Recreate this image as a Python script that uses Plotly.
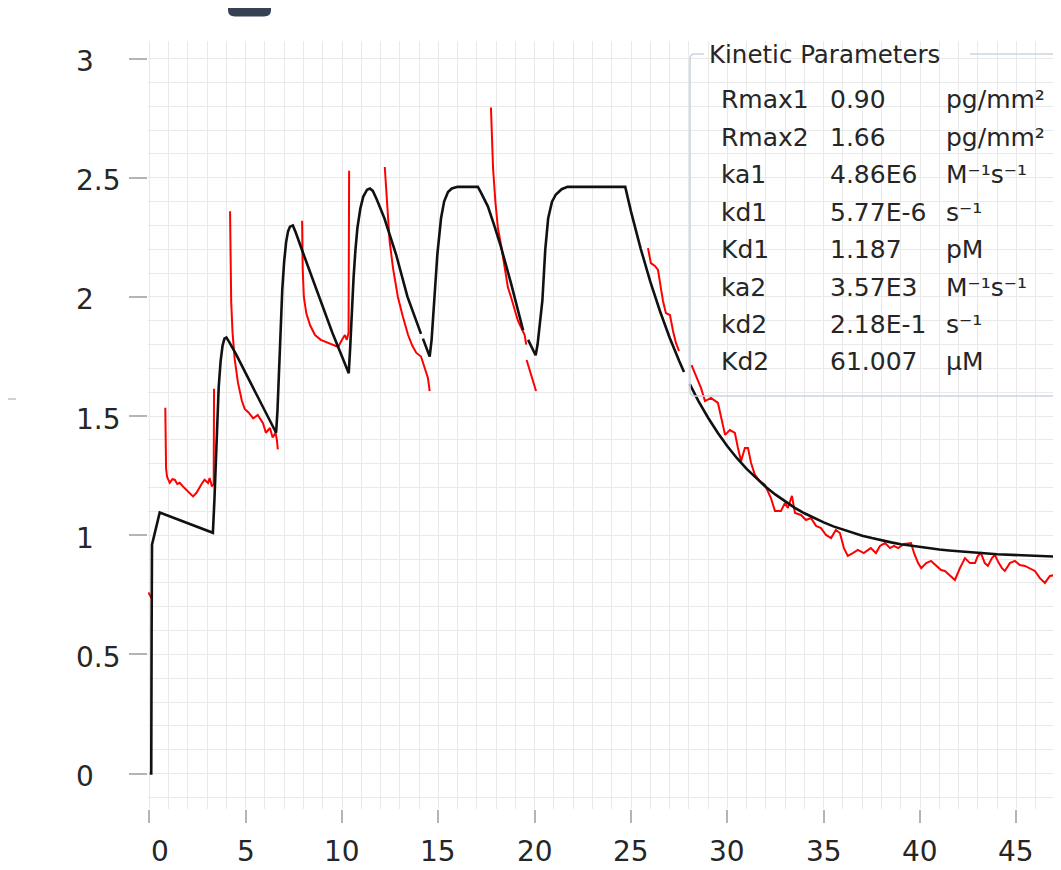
import plotly.graph_objects as go

# ---------------- data ----------------
# measured sensorgram (red), one list pair per recorded segment
meas_a_x = [-0.05, 0.05, 0.15]
meas_a_y = [0.76, 0.745, 0.73]

meas_b_x = [0.83, 0.85, 0.87, 0.92, 1.06, 1.2, 1.32, 1.45, 1.58, 1.8, 2.01, 2.15, 2.27, 2.44, 2.62, 2.75, 2.87, 3.05, 3.13, 3.25, 3.34, 3.36]
meas_b_y = [1.535, 1.40, 1.28, 1.245, 1.22, 1.235, 1.233, 1.215, 1.22, 1.20, 1.184, 1.17, 1.163, 1.177, 1.205, 1.22, 1.233, 1.219, 1.24, 1.205, 1.215, 1.615]

meas_c_x = [4.19, 4.21, 4.25, 4.32, 4.43, 4.6, 4.8, 4.95, 5.15, 5.39, 5.63, 5.9, 6.05, 6.26, 6.4, 6.55, 6.62, 6.67]
meas_c_y = [2.36, 2.15, 1.98, 1.85, 1.74, 1.64, 1.565, 1.53, 1.515, 1.49, 1.505, 1.47, 1.43, 1.45, 1.41, 1.43, 1.40, 1.36]

meas_d_x = [7.93, 7.96, 8.02, 8.15, 8.35, 8.6, 8.9, 9.2, 9.5, 9.8, 10.0, 10.15, 10.25, 10.34, 10.37]
meas_d_y = [2.32, 2.12, 2.0, 1.93, 1.88, 1.84, 1.82, 1.81, 1.80, 1.79, 1.82, 1.84, 1.82, 1.85, 2.53]

meas_e_x = [12.22, 12.3, 12.4, 12.47, 12.65, 12.9, 13.15, 13.43, 13.65, 13.86, 14.1, 14.3, 14.46, 14.55]
meas_e_y = [2.545, 2.43, 2.32, 2.235, 2.12, 2.0, 1.92, 1.84, 1.795, 1.765, 1.75, 1.70, 1.66, 1.605]

meas_f_x = [17.73, 17.78, 17.84, 17.96, 18.09, 18.25, 18.44, 18.61, 18.77, 19.13, 19.48, 19.56]
meas_f_y = [2.795, 2.65, 2.54, 2.40, 2.29, 2.22, 2.12, 2.04, 2.00, 1.90, 1.84, 1.80]

meas_g_x = [19.58, 19.81, 20.07]
meas_g_y = [1.735, 1.67, 1.605]

meas_h_x = [25.88, 26.03, 26.24, 26.4, 26.55, 26.66, 26.81, 27.02, 27.18, 27.33, 27.49]
meas_h_y = [2.205, 2.142, 2.13, 2.113, 2.037, 1.983, 1.932, 1.924, 1.857, 1.807, 1.773]

meas_i_x = [28.14, 28.32, 28.47, 28.63, 28.84, 29.15, 29.51, 29.67, 29.88, 30.13, 30.39, 30.55, 30.71, 30.91,
            31.07, 31.23, 31.43, 31.69, 31.95, 32.26, 32.47, 32.78, 32.99, 33.14, 33.35, 33.51, 33.82, 34.08,
            34.34, 34.6, 34.86, 35.12, 35.38, 35.63, 35.84, 36.05, 36.25, 36.51, 36.77, 37.08, 37.44, 37.71,
            37.92, 38.18, 38.44, 38.65, 38.86, 39.17, 39.53, 39.69, 39.9, 40.06, 40.32, 40.57, 40.83, 41.09,
            41.29, 41.55, 41.81, 42.07, 42.33, 42.59, 42.85, 43.0, 43.16, 43.36, 43.52, 43.73, 43.88, 44.09,
            44.25, 44.4, 44.66, 44.92, 45.18, 45.44, 45.7, 45.96, 46.22, 46.48, 46.74, 47.0, 47.26, 47.52, 47.73]
meas_i_y = [1.714, 1.68, 1.65, 1.618, 1.563, 1.576, 1.555, 1.492, 1.421, 1.441, 1.429, 1.366, 1.311, 1.366,
            1.366, 1.303, 1.253, 1.227, 1.211, 1.156, 1.102, 1.102, 1.135, 1.114, 1.165, 1.093, 1.085, 1.064,
            1.072, 1.039, 1.03, 1.001, 0.988, 1.022, 1.009, 0.946, 0.913, 0.925, 0.938, 0.925, 0.946, 0.925,
            0.955, 0.967, 0.946, 0.955, 0.946, 0.963, 0.967, 0.925, 0.883, 0.862, 0.883, 0.892, 0.871, 0.854,
            0.85, 0.829, 0.812, 0.862, 0.904, 0.883, 0.883, 0.913, 0.925, 0.883, 0.871, 0.904, 0.917, 0.883,
            0.862, 0.85, 0.883, 0.892, 0.875, 0.871, 0.862, 0.85, 0.82, 0.80, 0.829, 0.833, 0.862, 0.875, 0.883]

# fitted model (black)
fit_a_x = [0.02, 0.1, 0.12, 0.14, 0.54, 1.5, 2.5, 3.3, 3.38, 3.45, 3.52, 3.6, 3.7, 3.8, 3.9, 4.0,
           4.15, 4.5, 5.0, 5.5, 6.0, 6.58, 6.65, 6.72, 6.8, 6.9, 7.0, 7.1, 7.2, 7.3, 7.45,
           7.6, 8.0, 8.5, 9.0, 9.5, 10.0, 10.35, 10.42, 10.5, 10.6, 10.7, 10.8, 10.95, 11.1, 11.3, 11.45,
           11.6, 11.8, 12.2, 12.8, 13.4, 14.1]
fit_a_y = [0.0, 0.0, 0.6, 0.96, 1.095, 1.065, 1.035, 1.01, 1.15, 1.32, 1.48, 1.62, 1.73, 1.795, 1.825, 1.83,
           1.81, 1.76, 1.68, 1.60, 1.52, 1.43, 1.52, 1.68, 1.86, 2.03, 2.15, 2.23, 2.275, 2.295, 2.30,
           2.27, 2.18, 2.07, 1.96, 1.85, 1.75, 1.68, 1.78, 1.93, 2.08, 2.2, 2.29, 2.37, 2.42, 2.45, 2.455,
           2.445, 2.41, 2.33, 2.18, 2.0, 1.845]

fit_b_x = [14.2, 14.55, 14.65, 14.8, 14.95, 15.14, 15.3, 15.5, 15.7, 16.0, 17.05, 17.2, 17.57, 17.9, 18.25, 18.78, 19.4]
fit_b_y = [1.825, 1.75, 1.82, 1.99, 2.18, 2.33, 2.40, 2.44, 2.455, 2.462, 2.462, 2.44, 2.38, 2.30, 2.21, 2.055, 1.86]

fit_c_x = [19.66, 20.05, 20.15, 20.3, 20.4, 20.55, 20.7, 20.9, 21.1, 21.4, 21.7, 24.7, 25.0, 25.5, 26.0, 26.5, 27.0, 27.5, 27.75]
fit_c_y = [1.82, 1.755, 1.80, 1.91, 1.985, 2.2, 2.33, 2.40, 2.43, 2.452, 2.462, 2.462, 2.358, 2.203, 2.064, 1.941, 1.830, 1.731, 1.685]

fit_d_x = [28.05, 28.5, 29.0, 29.5, 30.0, 30.5, 31.0, 31.5, 32.0, 32.5, 33.0, 33.5, 34.0, 34.5, 35.0, 35.5,
           36.0, 36.5, 37.0, 37.5, 38.0, 38.5, 39.0, 39.5, 40.0, 40.5, 41.0, 41.5, 42.0, 42.5, 43.0, 43.5,
           44.0, 44.5, 45.0, 45.5, 46.0, 46.5, 47.0, 47.5, 47.8]
fit_d_y = [1.634, 1.563, 1.493, 1.430, 1.373, 1.323, 1.278, 1.238, 1.202, 1.170, 1.141, 1.115, 1.092, 1.072, 1.054, 1.037,
           1.023, 1.010, 0.998, 0.988, 0.978, 0.970, 0.962, 0.956, 0.950, 0.945, 0.940, 0.936, 0.932, 0.928, 0.925, 0.923,
           0.920, 0.918, 0.916, 0.915, 0.913, 0.912, 0.910, 0.909, 0.908]

x_tick_vals = [0, 5, 10, 15, 20, 25, 30, 35, 40, 45]
x_tick_text = ["0", "5", "10", "15", "20", "25", "30", "35", "40", "45"]
y_tick_vals = [0, 0.5, 1, 1.5, 2, 2.5, 3]
y_tick_text = ["0", "0.5", "1", "1.5", "2", "2.5", "3"]

legend_title = "Kinetic Parameters"
param_names = ["Rmax1", "Rmax2", "ka1", "kd1", "Kd1", "ka2", "kd2", "Kd2"]
param_values = ["0.90", "1.66", "4.86E6", "5.77E-6", "1.187", "3.57E3", "2.18E-1", "61.007"]
param_units = ["pg/mm²", "pg/mm²", "M⁻¹s⁻¹", "s⁻¹", "pM", "M⁻¹s⁻¹", "s⁻¹", "µM"]

# ---------------- layout constants (pixels) ----------------
W, H = 1061, 870
ML, MR, MT, MB = 140, 0, 33, 69
X_RANGE = [-0.068, 47.73]
Y_RANGE = [-0.149, 3.074]
FONT = "DejaVu Sans"
TXT = "#262626"
GRID = "#e9e9e9"
TICKC = "#b4b4b4"


def px(xp):
    return (xp - ML) / (W - ML - MR)


def py(yp):
    return (H - MB - yp) / (H - MT - MB)


def join(segs):
    xs, ys = [], []
    for sx, sy in segs:
        if xs:
            xs.append(None)
            ys.append(None)
        xs += list(sx)
        ys += list(sy)
    return xs, ys


mx, my = join([(meas_a_x, meas_a_y), (meas_b_x, meas_b_y), (meas_c_x, meas_c_y), (meas_d_x, meas_d_y),
               (meas_e_x, meas_e_y), (meas_f_x, meas_f_y), (meas_g_x, meas_g_y), (meas_h_x, meas_h_y),
               (meas_i_x, meas_i_y)])
fx, fy = join([(fit_a_x, fit_a_y), (fit_b_x, fit_b_y), (fit_c_x, fit_c_y), (fit_d_x, fit_d_y)])

fig = go.Figure()
fig.add_trace(go.Scatter(x=mx, y=my, mode="lines", line=dict(color="#ff0000", width=2),
                         connectgaps=False, hoverinfo="skip", showlegend=False))
fig.add_trace(go.Scatter(x=fx, y=fy, mode="lines", line=dict(color="#111111", width=2.6),
                         connectgaps=False, hoverinfo="skip", showlegend=False))

annotations = []
# x tick labels
for v, t in zip(x_tick_vals, x_tick_text):
    annotations.append(dict(x=v, xref="x", y=py(843), yref="paper", text=t, showarrow=False,
                            xanchor="center", yanchor="middle", xshift=11 if v == 0 else 0,
                            font=dict(family=FONT, size=28, color=TXT)))
# y tick labels (left aligned)
for v, t in zip(y_tick_vals, y_tick_text):
    annotations.append(dict(x=px(66), xref="paper", y=v, yref="y", text=t, showarrow=False,
                            xanchor="left", yanchor="middle", yshift=-3,
                            font=dict(family=FONT, size=28, color=TXT)))

# parameter box
annotations.append(dict(x=px(699), xref="paper", y=py(46), yref="paper", text=legend_title, showarrow=False,
                        xanchor="left", yanchor="middle", font=dict(family=FONT, size=24.5, color=TXT)))
row_y = [92, 129, 166.5, 204, 241.5, 279, 316, 353.5]
for ry, n, v, u in zip(row_y, param_names, param_values, param_units):
    for colx, t in ((711, n), (820, v), (936, u)):
        annotations.append(dict(x=px(colx), xref="paper", y=py(ry), yref="paper", text=t, showarrow=False,
                                xanchor="left", yanchor="middle", font=dict(family=FONT, size=25, color=TXT)))

box_l, box_r, box_t, box_b, rad = 682, 1070, 46, 388, 5
shapes = [
    # translucent box background (above grid, below data)
    dict(type="rect", xref="x domain", yref="y domain", x0=px(box_l), x1=px(box_r), y0=py(box_b), y1=py(box_t),
         fillcolor="rgba(255,255,255,0.82)", line=dict(width=0), layer="below"),
    # box outline, interrupted by title
    dict(type="path", xref="paper", yref="paper", layer="above",
         path=(f"M {px(696)},{py(box_t)} L {px(box_l + rad)},{py(box_t)} "
               f"Q {px(box_l)},{py(box_t)} {px(box_l)},{py(box_t + rad)} "
               f"L {px(box_l)},{py(box_b - rad)} Q {px(box_l)},{py(box_b)} {px(box_l + rad)},{py(box_b)} "
               f"L {px(box_r)},{py(box_b)}"),
         line=dict(color="#cad4df", width=1.6)),
    dict(type="line", xref="paper", yref="paper", x0=px(962), x1=px(box_r), y0=py(box_t), y1=py(box_t),
         line=dict(color="#cad4df", width=1.6), layer="above"),
    # dark rounded element at top edge
    dict(type="path", xref="paper", yref="paper", layer="above",
         path=(f"M {px(220)},{py(-2)} L {px(263)},{py(-2)} L {px(263)},{py(2)} "
               f"Q {px(263)},{py(8.5)} {px(256)},{py(8.5)} L {px(227)},{py(8.5)} "
               f"Q {px(220)},{py(8.5)} {px(220)},{py(2)} Z"),
         fillcolor="#364154", line=dict(width=0)),
    # small grey dash at the far left
    dict(type="line", xref="paper", yref="paper", x0=px(0), x1=px(8), y0=py(391), y1=py(391),
         line=dict(color="#d0d0d0", width=2), layer="above"),
]

fig.update_layout(
    width=W, height=H,
    margin=dict(l=ML, r=MR, t=MT, b=MB, pad=0),
    paper_bgcolor="white", plot_bgcolor="white",
    showlegend=False,
    annotations=annotations,
    shapes=shapes,
    xaxis=dict(range=X_RANGE, tickmode="array", tickvals=x_tick_vals, showticklabels=False,
               ticks="outside", ticklen=13, tickwidth=1.6, tickcolor=TICKC,
               showgrid=True, gridcolor=GRID, gridwidth=1, zeroline=False, showline=False,
               minor=dict(tickmode="linear", tick0=0, dtick=1, showgrid=True, gridcolor=GRID, gridwidth=1, ticks="")),
    yaxis=dict(range=Y_RANGE, tickmode="array", tickvals=y_tick_vals, showticklabels=False,
               ticks="outside", ticklen=18, tickwidth=1.6, tickcolor=TICKC,
               showgrid=True, gridcolor=GRID, gridwidth=1, zeroline=False, showline=False,
               minor=dict(tickmode="linear", tick0=0, dtick=0.1, showgrid=True, gridcolor=GRID, gridwidth=1, ticks="")),
)

fig.write_html("out.html")
